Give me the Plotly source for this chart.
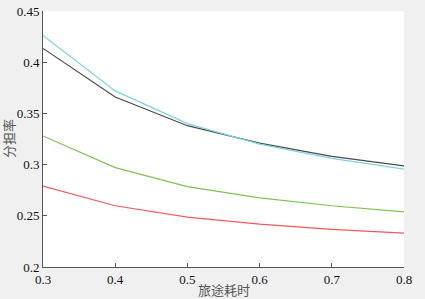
import plotly.graph_objects as go

x_vals = [0.3, 0.4, 0.5, 0.6, 0.7, 0.8]
cyan_vals = [0.426, 0.372, 0.340, 0.320, 0.306, 0.2955]
dark_vals = [0.4135, 0.366, 0.338, 0.321, 0.308, 0.2988]
green_vals = [0.328, 0.297, 0.2785, 0.2675, 0.2598, 0.2538]
red_vals = [0.279, 0.2598, 0.2487, 0.2419, 0.2367, 0.2330]

series = [
    (dark_vals, "#4a4a4a"),
    (cyan_vals, "#7fd3e2"),
    (green_vals, "#7cc452"),
    (red_vals, "#f05a5a"),
]

fig = go.Figure()
for vals, color in series:
    fig.add_trace(go.Scatter(x=x_vals, y=vals, mode="lines",
                             line=dict(color=color, width=1.2), showlegend=False))

serif = "Liberation Serif"
tick_font = dict(family=serif, size=13, color="#111")
title_font = dict(family="Noto Sans CJK SC", size=13, color="#555")
fig.update_layout(
    width=425, height=299,
    margin=dict(l=43, r=21, t=11, b=32, autoexpand=False),
    paper_bgcolor="#f0f0f0", plot_bgcolor="#ffffff",
    xaxis=dict(range=[0.3, 0.8], tickvals=[0.3, 0.4, 0.5, 0.6, 0.7, 0.8],
               ticktext=["0.3", "0.4", "0.5", "0.6", "0.7", "0.8"],
               ticks="inside", ticklen=4, tickcolor="#555", showline=True,
               linecolor="#555", linewidth=1, showgrid=False, zeroline=False,
               tickfont=tick_font, automargin=False),
    yaxis=dict(range=[0.2, 0.45], tickvals=[0.2, 0.25, 0.3, 0.35, 0.4, 0.45],
               ticktext=["0.2", "0.25", "0.3", "0.35", "0.4", "0.45"],
               ticks="inside", ticklen=4, tickcolor="#555", showline=True,
               linecolor="#555", linewidth=1, showgrid=False, zeroline=False,
               tickfont=tick_font, automargin=False),
    annotations=[
        dict(text="旅途耗时", xref="paper", yref="paper", x=0.5, y=0,
             yshift=-22, yanchor="middle", showarrow=False, font=title_font),
        dict(text="分担率", xref="paper", yref="paper", x=0, y=0.5,
             xshift=-35, xanchor="center", textangle=-90, showarrow=False,
             font=title_font),
    ],
)

fig.write_html(
    "out.html",
    config={"displayModeBar": False},
    post_script="document.body.style.margin='0';document.body.style.background='#f0f0f0';",
)
